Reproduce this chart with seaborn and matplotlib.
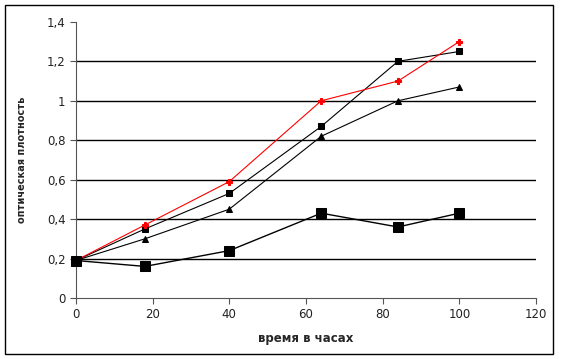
import matplotlib
matplotlib.use("Agg")
import matplotlib.pyplot as plt
import seaborn as sns
import pandas as pd
from matplotlib.patches import Rectangle

hours = [0, 18, 40, 64, 84, 100]
red_series = [0.19, 0.37, 0.59, 1.0, 1.1, 1.3]
square_small = [0.19, 0.35, 0.53, 0.87, 1.2, 1.25]
triangle_series = [0.19, 0.30, 0.45, 0.82, 1.0, 1.07]
square_big = [0.19, 0.16, 0.24, 0.43, 0.36, 0.43]
yticks = [0, 0.2, 0.4, 0.6, 0.8, 1.0, 1.2, 1.4]
ytick_labels = ["0", "0,2", "0,4", "0,6", "0,8", "1", "1,2", "1,4"]
gridlines = [0.2, 0.4, 0.6, 0.8, 1.0, 1.2]
xticks = [0, 20, 40, 60, 80, 100, 120]

sns.set_style("white")
plt.rcParams['font.family'] = ['DejaVu Sans']

fig = plt.figure(figsize=(5.66, 3.59), dpi=100)
ax = fig.add_axes([0.134, 0.170, 0.813, 0.769])

for g in gridlines:
    ax.axhline(g, color="black", linewidth=1.0, zorder=0)

styles = [
    (triangle_series, dict(color="black", marker="^", markersize=5, linewidth=0.8)),
    (square_small, dict(color="black", marker="s", markersize=5, linewidth=0.8)),
    (red_series, dict(color="red", marker="P", markersize=5, linewidth=0.8)),
    (square_big, dict(color="black", marker="s", markersize=7.5, linewidth=1.0)),
]
for vals, st in styles:
    df = pd.DataFrame({"x": hours, "y": vals})
    sns.lineplot(data=df, x="x", y="y", ax=ax, markeredgecolor=st["color"], clip_on=False, zorder=3, **st)

ax.set_xlim(0, 120)
ax.set_ylim(0, 1.4)
ax.set_yticks(yticks)
ax.set_yticklabels(ytick_labels)
ax.set_xticks(xticks)
for s in ["top", "right"]:
    ax.spines[s].set_visible(False)
for s in ["left", "bottom"]:
    ax.spines[s].set_color("#555555")
    ax.spines[s].set_linewidth(0.8)
ax.tick_params(axis="both", direction="out", length=4, width=0.8, color="#555555",
               labelsize=8.5, labelcolor="#222222", left=True, bottom=True)
ax.set_xlabel("время в часах", fontsize=8.5, fontweight="bold", labelpad=8)
ax.set_ylabel("оптическая плотность", fontsize=7, fontweight="bold", labelpad=14)

fig.patches.append(Rectangle((5 / 566, 5 / 359), 548 / 566, 349 / 359, transform=fig.transFigure,
                             fill=False, edgecolor="black", linewidth=1.0))

fig.savefig("out.png", dpi=100)
